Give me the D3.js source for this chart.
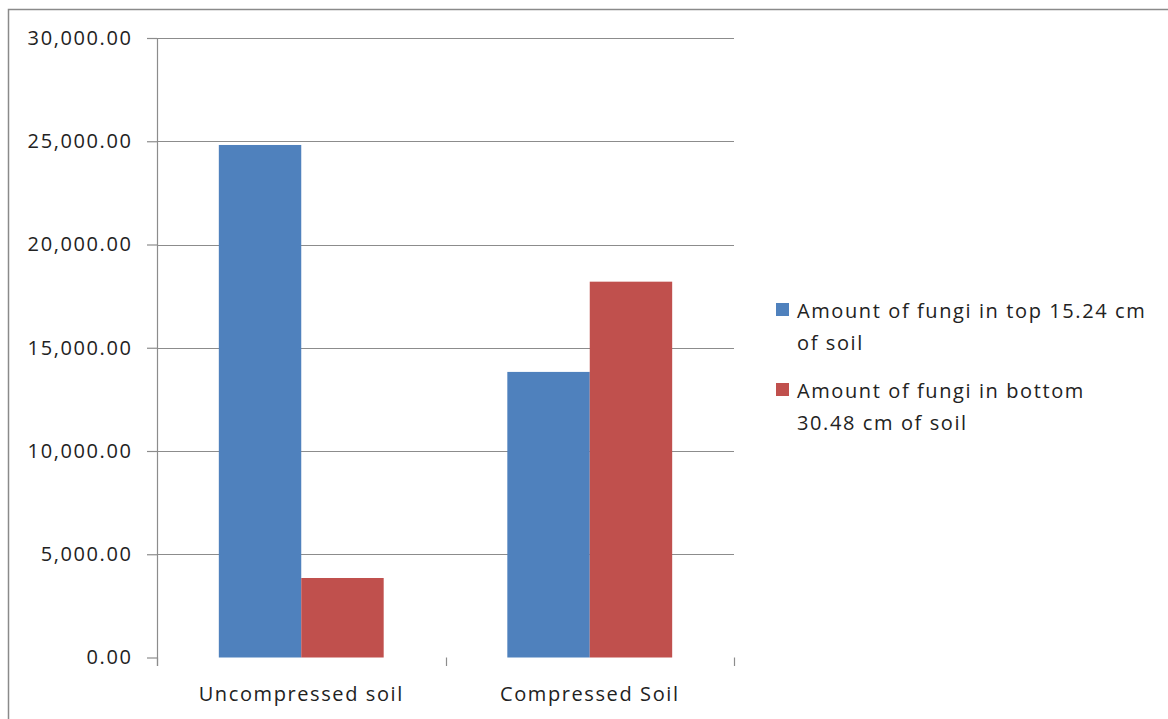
<!DOCTYPE html>
<html>
<head>
<meta charset="utf-8">
<script src="https://cdn.jsdelivr.net/npm/d3@7"></script>
<style>
  body { margin: 0; background: #fff; }
  svg { display: block; }
  text { font-family: "Open Sans", sans-serif; fill: #222; }
</style>
</head>
<body>
<div class="chart"></div>
<script>
// values
const categories = ['Uncompressed soil', 'Compressed Soil'];
const seriesNames = ['top', 'bottom'];
const topValues = [24820, 13830];
const bottomValues = [3850, 18200];
const legendLines = [
  ['Amount of fungi in top 15.24 cm', 'of soil'],
  ['Amount of fungi in bottom', '30.48 cm of soil']
];
const yTicks = [0, 5000, 10000, 15000, 20000, 25000, 30000];
const colors = ['#4f81bd', '#c0504d'];

const width = 1168;
const height = 719;
const plot = { left: 157, right: 734, top: 38, bottom: 657.5 };
const fontSize = 20;
const spacing = '1.6px';

const svg = d3.select('.chart')
  .append('svg')
  .attr('width', width)
  .attr('height', height);

// outer frame (only top and left edges are in view)
svg.append('path')
  .attr('d', `M8.5,${height} V9.5 H${width}`)
  .attr('fill', 'none')
  .attr('stroke', '#8a8a8a')
  .attr('stroke-width', 1.5);

const y = d3.scaleLinear()
  .domain([0, 30000])
  .range([plot.bottom, plot.top]);

const x = d3.scaleBand()
  .domain(categories)
  .range([plot.left, plot.right]);

// excel gap width 150% -> outer padding 0.75 of a bar
const xInner = d3.scaleBand()
  .domain(seriesNames)
  .range([0, x.bandwidth()])
  .paddingOuter(0.75);

// gridlines
svg.append('g')
  .selectAll('line')
  .data(yTicks.filter(d => d > 0))
  .enter()
    .append('line')
    .attr('x1', plot.left)
    .attr('x2', plot.right)
    .attr('y1', d => Math.round(y(d)) + 0.5)
    .attr('y2', d => Math.round(y(d)) + 0.5)
    .attr('stroke', '#8c8c8c')
    .attr('stroke-width', 1.2);

// bars
const rows = categories.map((c, i) => ({ cat: c, values: [topValues[i], bottomValues[i]] }));

svg.append('g')
  .selectAll('g')
  .data(rows)
  .enter()
    .append('g')
    .attr('transform', d => `translate(${x(d.cat)},0)`)
    .selectAll('rect')
    .data(d => d.values.map((v, j) => ({ key: seriesNames[j], v, j })))
    .enter()
      .append('rect')
      .attr('x', d => xInner(d.key))
      .attr('width', xInner.bandwidth())
      .attr('y', d => y(d.v))
      .attr('height', d => y(0) - y(d.v))
      .attr('fill', d => colors[d.j]);

// y axis
const yAxis = d3.axisLeft(y)
  .tickValues(yTicks)
  .tickFormat(d3.format(',.2f'))
  .tickSize(10)
  .tickPadding(14.5);

const yG = svg.append('g')
  .attr('transform', `translate(${plot.left},0)`)
  .call(yAxis);

// x axis, labels at band centres, ticks between categories
const xAxis = d3.axisBottom(x)
  .tickSize(0)
  .tickPadding(29);

const xG = svg.append('g')
  .attr('transform', `translate(0,${plot.bottom})`)
  .call(xAxis);

svg.append('g')
  .selectAll('line')
  .data(categories.map(c => x(c)).concat([plot.right]))
  .enter()
    .append('line')
    .attr('x1', d => Math.round(d) + 0.5)
    .attr('x2', d => Math.round(d) + 0.5)
    .attr('y1', plot.bottom)
    .attr('y2', plot.bottom + 8.5)
    .attr('stroke', '#8c8c8c')
    .attr('stroke-width', 1.2);

[yG, xG].forEach(g => {
  g.select('.domain').attr('stroke', '#8c8c8c').attr('stroke-width', 1.2);
  g.selectAll('.tick line').attr('stroke', '#8c8c8c').attr('stroke-width', 1.2);
  g.selectAll('.tick text')
    .attr('font-family', '"Open Sans", sans-serif')
    .attr('font-size', fontSize)
    .attr('letter-spacing', spacing)
    .attr('fill', '#222');
});

yG.select('.domain').attr('d', `M0.5,${plot.top}V${plot.bottom + 8.5}`);
xG.select('.domain').attr('d', `M${plot.left},${plot.bottom}H${plot.right}`);

// legend
const legend = svg.append('g')
  .selectAll('g')
  .data(legendLines)
  .enter()
    .append('g')
    .attr('transform', (d, i) => `translate(776,${303 + i * 80})`);

legend.append('rect')
  .attr('width', 13)
  .attr('height', 13)
  .attr('fill', (d, i) => colors[i]);

legend.append('text')
  .attr('font-size', fontSize)
  .attr('letter-spacing', spacing)
  .selectAll('tspan')
  .data(d => d)
  .enter()
    .append('tspan')
    .attr('x', 21)
    .attr('y', (d, i) => 15 + i * 32)
    .text(d => d);
</script>
</body>
</html>
